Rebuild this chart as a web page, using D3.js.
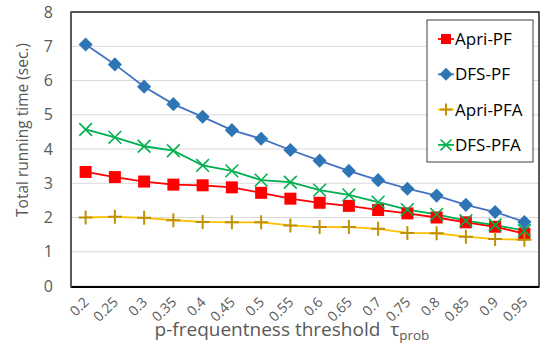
<!DOCTYPE html>
<html>
<head>
<meta charset="utf-8">
<script src="https://cdn.jsdelivr.net/npm/d3@7"></script>
<style>
  body { margin: 0; background: #fff; }
  svg { font-family: "Open Sans", Lato, sans-serif; }
</style>
</head>
<body>
<svg width="542" height="350"></svg>
<script>
// data
var thresholds = ["0.2","0.25","0.3","0.35","0.4","0.45","0.5","0.55","0.6","0.65","0.7","0.75","0.8","0.85","0.9","0.95"];
var apriPF  = [3.33,3.18,3.05,2.96,2.94,2.88,2.72,2.55,2.43,2.34,2.22,2.12,2.00,1.86,1.73,1.53];
var dfsPF   = [7.05,6.47,5.82,5.31,4.94,4.55,4.30,3.97,3.66,3.36,3.09,2.84,2.64,2.37,2.16,1.87];
var apriPFA = [2.00,2.02,1.99,1.92,1.87,1.86,1.86,1.77,1.72,1.72,1.67,1.55,1.54,1.44,1.37,1.35];
var dfsPFA  = [4.57,4.34,4.08,3.95,3.52,3.36,3.09,3.03,2.80,2.66,2.45,2.23,2.09,1.91,1.78,1.62];
var yTicks = [0,1,2,3,4,5,6,7,8];

var series = [
  {name: "Apri-PF",  values: apriPF,  line: "#ff0000", mark: "#ff0000", sym: "square"},
  {name: "DFS-PF",   values: dfsPF,   line: "#4472c4", mark: "#2e75b6", sym: "diamond"},
  {name: "Apri-PFA", values: apriPFA, line: "#ffc000", mark: "#bf9000", sym: "plus"},
  {name: "DFS-PFA",  values: dfsPFA,  line: "#00b050", mark: "#00b050", sym: "cross"}
];

var svg = d3.select("svg");
var pLeft = 71, pRight = 539, pTop = 12, pBottom = 286;

var x = d3.scaleBand().domain(thresholds).range([pLeft, pRight]);
var y = d3.scaleLinear().domain([0, 8]).range([pBottom, pTop]);

// gridlines
svg.append("g").selectAll("line")
  .data(yTicks)
  .enter().append("line")
  .attr("x1", pLeft).attr("x2", pRight)
  .attr("y1", function(d){ return y(d); })
  .attr("y2", function(d){ return y(d); })
  .attr("stroke", "#d9d9d9").attr("stroke-width", 1.2);

// plot box
svg.append("rect")
  .attr("x", pLeft).attr("y", pTop)
  .attr("width", pRight - pLeft).attr("height", pBottom - pTop + 1)
  .attr("fill", "none").attr("stroke", "#000").attr("stroke-width", 1.3);
svg.append("line")
  .attr("x1", pLeft).attr("x2", pRight)
  .attr("y1", pBottom + 1).attr("y2", pBottom + 1)
  .attr("stroke", "#000").attr("stroke-width", 2);
svg.append("line")
  .attr("x1", pLeft).attr("x2", pLeft)
  .attr("y1", pTop).attr("y2", pBottom + 1)
  .attr("stroke", "#595959").attr("stroke-width", 2);

// y axis labels
var yAxis = d3.axisLeft(y).tickValues(yTicks).tickSize(0).tickPadding(18);
var ya = svg.append("g").attr("transform", "translate(" + pLeft + ",0)").call(yAxis);
ya.select(".domain").remove();
ya.selectAll("text").attr("font-size", 16).attr("fill", "#595959")
  .attr("font-family", "'Open Sans', sans-serif");

// x axis labels
var xAxis = d3.axisBottom(x).tickSize(0);
var xa = svg.append("g").attr("transform", "translate(0," + pBottom + ")").call(xAxis);
xa.select(".domain").remove();
xa.selectAll("text")
  .attr("font-size", 14).attr("fill", "#595959")
  .attr("font-family", "'Open Sans', sans-serif")
  .attr("text-anchor", "end")
  .attr("dy", null).attr("y", 0)
  .attr("transform", "translate(4,17) rotate(-45)");

// axis titles
svg.append("text")
  .attr("transform", "translate(28,130) rotate(-90)")
  .attr("text-anchor", "middle")
  .attr("font-size", 15.5).attr("fill", "#595959")
  .text("Total running time (sec.)");

var xt = svg.append("text")
  .attr("x", 292).attr("y", 336)
  .attr("text-anchor", "middle")
  .attr("font-size", 19).attr("fill", "#595959");
xt.append("tspan").text("p-frequentness threshold\u00a0\u00a0\u03c4");
xt.append("tspan").attr("font-size", 13.5).attr("dy", 4).text("prob");

// lines and markers
var line = d3.line()
  .x(function(d, i){ return x(thresholds[i]) + x.bandwidth() / 2; })
  .y(function(d){ return y(d); });

function drawMarker(g, sym, color, size) {
  if (sym == "square") {
    g.append("rect").attr("x", -size/2).attr("y", -size/2)
      .attr("width", size).attr("height", size).attr("fill", color);
  } else if (sym == "diamond") {
    g.append("path").attr("d", d3.symbol(d3.symbolDiamond2, size * size * 0.75)())
      .attr("fill", color);
  } else if (sym == "plus") {
    g.append("path").attr("d", "M" + (-size/2) + ",0H" + (size/2) + "M0," + (-size/2) + "V" + (size/2))
      .attr("stroke", color).attr("stroke-width", 2).attr("fill", "none");
  } else {
    var h = size / 2.2;
    g.append("path").attr("d", "M" + (-h) + "," + (-h) + "L" + h + "," + h + "M" + (-h) + "," + h + "L" + h + "," + (-h))
      .attr("stroke", color).attr("stroke-width", 1.6).attr("fill", "none");
  }
}

var sizes = {square: 12, diamond: 13, plus: 14, cross: 14};

series.forEach(function(s) {
  svg.append("path")
    .datum(s.values)
    .attr("d", line)
    .attr("fill", "none")
    .attr("stroke", s.line)
    .attr("stroke-width", 1.8);
});

series.forEach(function(s) {
  svg.append("g").selectAll("g")
    .data(s.values)
    .enter().append("g")
    .attr("transform", function(d, i){
      return "translate(" + (x(thresholds[i]) + x.bandwidth() / 2) + "," + y(d) + ")";
    })
    .each(function(){ drawMarker(d3.select(this), s.sym, s.mark, sizes[s.sym]); });
});

// legend
var lg = svg.append("g");
lg.append("rect")
  .attr("x", 427).attr("y", 20).attr("width", 106).attr("height", 142)
  .attr("fill", "#fff").attr("stroke", "#404040").attr("stroke-width", 1);

var item = lg.selectAll("g.item")
  .data(series)
  .enter().append("g").attr("class", "item")
  .attr("transform", function(d, i){ return "translate(446," + (39 + i * 35.3) + ")"; });

item.append("line")
  .attr("x1", -8).attr("x2", 8)
  .attr("stroke", function(d){ return d.line; })
  .attr("stroke-width", 1.8);
item.each(function(d){ drawMarker(d3.select(this), d.sym, d.mark, d.sym == "square" ? 10 : 12); });
item.append("text")
  .attr("x", 9).attr("dy", "0.36em")
  .attr("font-size", 17).attr("fill", "#000")
  .text(function(d){ return d.name; });
</script>
</body>
</html>
